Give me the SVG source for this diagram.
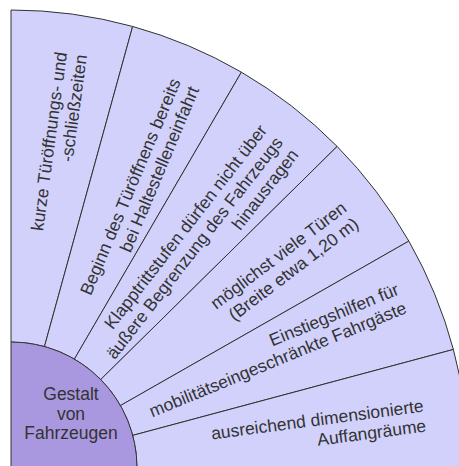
<svg xmlns="http://www.w3.org/2000/svg" width="459" height="466" viewBox="0 0 459 466">
  <style>
    .sector { fill: #d1d1fb; stroke: #333333; stroke-width: 1; stroke-linejoin: round; }
    .hub { fill: #a998e0; stroke: #333333; stroke-width: 1; }
    .label { font-family: "Liberation Sans", Arial, sans-serif; font-size: 17.5px; fill: #333333; text-anchor: end; }
    .hub-label { font-family: "Liberation Sans", Arial, sans-serif; font-size: 17.5px; fill: #333333; text-anchor: middle; }
  </style>
  <rect width="459" height="466" fill="#ffffff"/>

  <!-- fan of six sectors around the hub at (11,468) -->
  <g id="sector-1">
    <path class="sector" d="M11,342 L11,10 A458,458 0 0 1 132.63,26.44 L44.46,346.52 A126,126 0 0 0 11,342 Z"/>
    <g transform="translate(11,468) rotate(-82.3)">
      <text class="label" x="419" y="0">kurze Türöffnungs- und</text>
      <text class="label" x="419" y="20">-schließzeiten</text>
    </g>
  </g>

  <g id="sector-2">
    <path class="sector" d="M44.46,346.52 L132.63,26.44 A458,458 0 0 1 241.38,72.16 L74.38,359.10 A126,126 0 0 0 44.46,346.52 Z"/>
    <g transform="translate(11,468) rotate(-67.2)">
      <text class="label" x="422" y="7">Beginn des Türöffnens bereits</text>
      <text class="label" x="422" y="27">bei Haltestelleneinfahrt</text>
    </g>
  </g>

  <g id="sector-3">
    <path class="sector" d="M74.38,359.10 L241.38,72.16 A458,458 0 0 1 337.11,146.42 L100.72,379.53 A126,126 0 0 0 74.38,359.10 Z"/>
    <g transform="translate(11,468) rotate(-52.2)">
      <text class="label" x="424" y="-4">Klapptrittstufen dürfen nicht über</text>
      <text class="label" x="424" y="16">äußere Begrenzung des Fahrzeugs</text>
      <text class="label" x="424" y="36">hinausragen</text>
    </g>
  </g>

  <g id="sector-4">
    <path class="sector" d="M100.72,379.53 L337.11,146.42 A458,458 0 0 1 408.83,241.08 L120.45,405.57 A126,126 0 0 0 100.72,379.53 Z"/>
    <g transform="translate(11,468) rotate(-37.15)">
      <text class="label" x="424" y="-2">möglichst viele Türen</text>
      <text class="label" x="424" y="18">(Breite etwa 1,20 m)</text>
    </g>
  </g>

  <g id="sector-5">
    <path class="sector" d="M120.45,405.57 L408.83,241.08 A458,458 0 0 1 453.39,349.46 L132.71,435.39 A126,126 0 0 0 120.45,405.57 Z"/>
    <g transform="translate(11,468) rotate(-22.35)">
      <text class="label" x="426" y="-13">Einstiegshilfen für</text>
      <text class="label" x="426" y="7">mobilitätseingeschränkte Fahrgäste</text>
    </g>
  </g>

  <g id="sector-6">
    <path class="sector" d="M132.71,435.39 L453.39,349.46 A458,458 0 0 1 469,468 L137,468 A126,126 0 0 0 132.71,435.39 Z"/>
    <g transform="translate(11,468) rotate(-7.5)">
      <text class="label" x="417" y="-2">ausreichend dimensionierte</text>
      <text class="label" x="417" y="18">Auffangräume</text>
    </g>
  </g>

  <!-- central hub -->
  <g id="hub">
    <path class="hub" d="M11,468 L11,342 A126,126 0 0 1 137,468 Z"/>
    <text class="hub-label" x="71" y="400">Gestalt</text>
    <text class="hub-label" x="71" y="419.5">von</text>
    <text class="hub-label" x="71" y="438.5">Fahrzeugen</text>
  </g>

  <g id="connectors"/>
</svg>
